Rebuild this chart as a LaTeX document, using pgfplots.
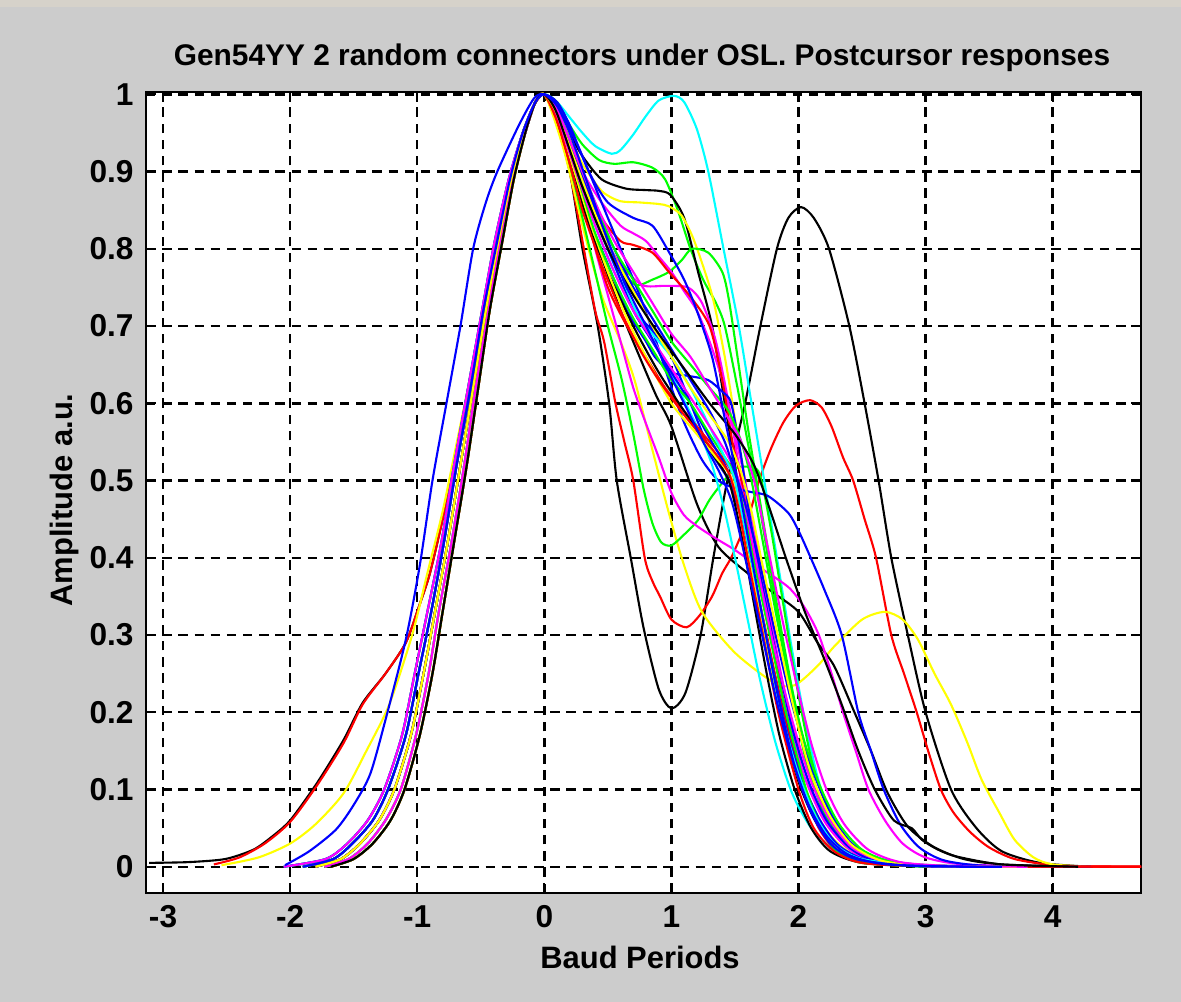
\documentclass[border=0pt]{standalone}
\usepackage{fontspec}
\setmainfont{Liberation Sans}
\usepackage{pgfplots}
\pgfplotsset{compat=1.18}
\definecolor{figgray}{RGB}{204,204,204}
\definecolor{barstrip}{RGB}{214,210,202}
\definecolor{mb}{RGB}{0,0,255}
\definecolor{mg}{RGB}{0,255,0}
\definecolor{mr}{RGB}{255,0,0}
\definecolor{mc}{RGB}{0,255,255}
\definecolor{mm}{RGB}{255,0,255}
\definecolor{my}{RGB}{255,255,0}
\definecolor{mk}{RGB}{0,0,0}

\begin{document}
\begin{tikzpicture}
\fill[figgray] (0,0) rectangle (11.81,10.02);
\fill[barstrip] (0,9.95) rectangle (11.81,10.02);
\begin{axis}[
  at={(1.46cm,1.09cm)}, anchor=south west,
  width=9.95cm, height=8.01cm, scale only axis,
  xmin=-3.134, xmax=4.695, ymin=-0.034, ymax=1.003,
  xtick={-3,-2,-1,0,1,2,3,4},
  xticklabels={-3,-2,-1,0,1,2,3,4},
  ytick={0,0.1,0.2,0.3,0.4,0.5,0.6,0.7,0.8,0.9,1},
  yticklabels={0,0.1,0.2,0.3,0.4,0.5,0.6,0.7,0.8,0.9,1},
  ticklabel style={font=\fontsize{9}{10}\selectfont\bfseries},
  grid=major,
  major grid style={black, line width=0.7pt, dash pattern=on 2.7pt off 1.9pt},
  axis line style={black, line width=0.65pt},
  tick style={black, line width=0.65pt},
  major tick length=2.8pt, tick align=inside,
  axis background/.style={fill=white},
  every axis plot/.append style={line width=0.6pt, no markers, smooth, tension=0.45},
]
% black: dip at 1, second peak near 2
\addplot[mk] coordinates {(-3.11,0.005) (-2.8,0.006) (-2.51,0.01) (-2.29,0.022) (-2.15,0.038) (-2.0,0.06) (-1.79,0.108) (-1.58,0.164) (-1.43,0.212) (-1.25,0.25) (-1.09,0.29) (-0.98,0.34) (-0.9,0.38) (-0.8,0.45) (-0.7,0.53) (-0.6,0.61) (-0.5,0.7) (-0.4,0.79) (-0.3,0.87) (-0.2,0.93) (-0.1,0.98) (0,1)
 (0.1,0.96) (0.2,0.9) (0.3,0.8) (0.42,0.7) (0.51,0.6) (0.57,0.5) (0.68,0.4) (0.78,0.31) (0.9,0.23) (1.0,0.205) (1.11,0.225) (1.23,0.3) (1.33,0.4) (1.44,0.5) (1.58,0.6) (1.7,0.7) (1.83,0.8) (1.92,0.84) (2.02,0.854) (2.12,0.84) (2.24,0.8) (2.4,0.7) (2.52,0.6) (2.63,0.5) (2.73,0.4) (2.86,0.3) (3.0,0.2) (3.2,0.1) (3.4,0.05) (3.6,0.02) (3.9,0.005) (4.3,0)};
% red: dip at 1.1, second peak near 2.1
\addplot[mr] coordinates {(-2.6,0.003) (-2.4,0.012) (-2.2,0.03) (-2.0,0.058) (-1.79,0.105) (-1.58,0.16) (-1.43,0.21) (-1.25,0.25) (-1.09,0.29) (-0.98,0.34) (-0.9,0.38) (-0.8,0.45) (-0.7,0.53) (-0.6,0.61) (-0.5,0.7) (-0.4,0.79) (-0.3,0.87) (-0.2,0.93) (-0.1,0.98) (0,1)
 (0.1,0.97) (0.2,0.9) (0.3,0.81) (0.4,0.72) (0.47,0.68) (0.56,0.6) (0.63,0.55) (0.7,0.5) (0.79,0.4) (0.85,0.37) (0.91,0.35) (1.0,0.32) (1.12,0.31) (1.22,0.325) (1.32,0.35) (1.4,0.38) (1.47,0.4) (1.55,0.43) (1.62,0.46) (1.69,0.5) (1.78,0.54) (1.88,0.575) (1.98,0.597) (2.09,0.604) (2.18,0.595) (2.26,0.57) (2.35,0.53) (2.43,0.5) (2.52,0.45) (2.61,0.4) (2.73,0.3) (2.83,0.25) (2.93,0.2) (3.02,0.15) (3.12,0.1) (3.22,0.07) (3.35,0.045) (3.5,0.025) (3.7,0.01) (4.0,0.002) (4.3,0.0005) (4.7,0)};
% yellow: bump near 2.7
\addplot[my] coordinates {(-2.54,0.002) (-2.25,0.012) (-2.0,0.03) (-1.8,0.055) (-1.58,0.095) (-1.4,0.15) (-1.22,0.21) (-1.04,0.3) (-0.92,0.38) (-0.8,0.46) (-0.7,0.54) (-0.6,0.62) (-0.5,0.7) (-0.4,0.79) (-0.3,0.87) (-0.2,0.93) (-0.1,0.98) (0,1)
 (0.15,0.93) (0.3,0.83) (0.45,0.74) (0.6,0.68) (0.71,0.63) (0.85,0.54) (0.98,0.458) (1.1,0.39) (1.24,0.33) (1.5,0.277) (1.81,0.238) (1.97,0.235) (2.15,0.26) (2.28,0.285) (2.5,0.32) (2.68,0.33) (2.82,0.32) (2.94,0.294) (3.07,0.25) (3.2,0.21) (3.33,0.16) (3.44,0.113) (3.58,0.07) (3.7,0.035) (3.85,0.012) (4.0,0.003) (4.3,0)};
% cyan: second peak at 1
\addplot[mc] coordinates {(-1.73,0) (-1.54,0.01) (-1.39,0.03) (-1.25,0.06) (-1.13,0.1) (-1.01,0.17) (-0.91,0.25) (-0.83,0.33) (-0.73,0.42) (-0.63,0.52) (-0.54,0.62) (-0.44,0.72) (-0.35,0.81) (-0.25,0.89) (-0.15,0.95) (-0.07,0.99) (0,1)
 (0.1,0.99) (0.2,0.97) (0.3,0.95) (0.4,0.933) (0.53,0.923) (0.6,0.928) (0.7,0.948) (0.8,0.972) (0.9,0.992) (1.02,0.998) (1.1,0.99) (1.2,0.955) (1.29,0.9) (1.41,0.8) (1.53,0.7) (1.62,0.61) (1.7,0.53) (1.78,0.45) (1.86,0.37) (1.95,0.28) (2.05,0.19) (2.16,0.11) (2.28,0.06) (2.42,0.025) (2.6,0.008) (3.0,0.001) (3.8,0)};
% green: shoulder at 0.91
\addplot[mg] coordinates {(-1.9,0) (-1.66,0.01) (-1.51,0.03) (-1.35,0.06) (-1.23,0.1) (-1.09,0.17) (-0.99,0.25) (-0.89,0.33) (-0.79,0.42) (-0.69,0.52) (-0.58,0.62) (-0.48,0.72) (-0.37,0.81) (-0.27,0.89) (-0.17,0.95) (-0.07,0.99) (0,1)
 (0.1,0.99) (0.2,0.96) (0.3,0.935) (0.43,0.915) (0.55,0.91) (0.7,0.912) (0.85,0.905) (0.95,0.89) (1.05,0.85) (1.15,0.8) (1.25,0.76) (1.35,0.73) (1.42,0.7) (1.52,0.62) (1.6,0.55) (1.68,0.48) (1.76,0.4) (1.85,0.31) (1.95,0.22) (2.07,0.13) (2.2,0.07) (2.35,0.03) (2.55,0.01) (3.0,0.001) (3.6,0)};
% black: shoulder at 0.875
\addplot[mk] coordinates {(-1.8,0) (-1.6,0.01) (-1.45,0.03) (-1.3,0.06) (-1.18,0.1) (-1.05,0.17) (-0.95,0.25) (-0.86,0.33) (-0.76,0.42) (-0.66,0.52) (-0.56,0.62) (-0.46,0.72) (-0.36,0.81) (-0.26,0.89) (-0.16,0.95) (-0.07,0.99) (0,1)
 (0.1,0.985) (0.2,0.95) (0.3,0.92) (0.45,0.89) (0.64,0.878) (0.8,0.876) (0.9,0.875) (0.99,0.87) (1.1,0.84) (1.21,0.77) (1.32,0.7) (1.42,0.6) (1.5,0.52) (1.58,0.44) (1.67,0.36) (1.77,0.27) (1.88,0.18) (2.0,0.11) (2.13,0.06) (2.3,0.025) (2.5,0.008) (2.9,0.001) (3.5,0)};
% yellow: shoulder at 0.86
\addplot[my] coordinates {(-1.68,0) (-1.5,0.01) (-1.35,0.03) (-1.21,0.06) (-1.1,0.1) (-0.98,0.17) (-0.88,0.25) (-0.8,0.33) (-0.71,0.42) (-0.61,0.52) (-0.52,0.62) (-0.43,0.72) (-0.33,0.81) (-0.24,0.89) (-0.15,0.95) (-0.07,0.99) (0,1)
 (0.1,0.98) (0.2,0.945) (0.3,0.91) (0.45,0.875) (0.59,0.862) (0.75,0.86) (0.9,0.858) (0.98,0.855) (1.08,0.843) (1.18,0.81) (1.32,0.74) (1.42,0.66) (1.5,0.58) (1.58,0.5) (1.66,0.42) (1.75,0.33) (1.86,0.23) (1.98,0.14) (2.12,0.075) (2.28,0.035) (2.5,0.01) (2.9,0.001) (3.5,0)};
% black: long straight decay
\addplot[mk] coordinates {(-1.9,0) (-1.66,0.01) (-1.51,0.03) (-1.35,0.06) (-1.23,0.1) (-1.09,0.17) (-0.99,0.25) (-0.89,0.33) (-0.79,0.42) (-0.69,0.52) (-0.58,0.62) (-0.48,0.72) (-0.37,0.81) (-0.27,0.89) (-0.17,0.95) (-0.07,0.99) (0,1)
 (0.1,0.975) (0.2,0.93) (0.3,0.87) (0.45,0.79) (0.6,0.72) (0.75,0.66) (0.88,0.61) (1.0,0.57) (1.2,0.47) (1.37,0.414) (1.6,0.38) (1.8,0.355) (2.0,0.33) (2.15,0.29) (2.28,0.26) (2.44,0.2) (2.57,0.15) (2.7,0.096) (2.86,0.052) (3.06,0.026) (3.3,0.01) (3.6,0.003) (4.2,0)};
% green: dip at 1
\addplot[mg] coordinates {(-2.05,0) (-1.72,0.01) (-1.55,0.03) (-1.39,0.06) (-1.26,0.1) (-1.12,0.17) (-1.02,0.25) (-0.92,0.33) (-0.81,0.42) (-0.71,0.52) (-0.6,0.62) (-0.49,0.72) (-0.39,0.81) (-0.28,0.89) (-0.17,0.95) (-0.07,0.99) (0,1)
 (0.1,0.97) (0.2,0.91) (0.3,0.84) (0.4,0.77) (0.5,0.7) (0.61,0.63) (0.7,0.56) (0.78,0.49) (0.85,0.445) (0.92,0.42) (1.0,0.416) (1.1,0.43) (1.21,0.449) (1.3,0.475) (1.4,0.497) (1.5,0.515) (1.58,0.518) (1.69,0.51) (1.78,0.44) (1.88,0.34) (1.98,0.24) (2.1,0.14) (2.22,0.08) (2.38,0.035) (2.6,0.01) (3.0,0.001) (3.6,0)};
% magenta: low shoulder
\addplot[mm] coordinates {(-1.8,0) (-1.6,0.01) (-1.45,0.03) (-1.3,0.06) (-1.18,0.1) (-1.05,0.17) (-0.95,0.25) (-0.86,0.33) (-0.76,0.42) (-0.66,0.52) (-0.56,0.62) (-0.46,0.72) (-0.36,0.81) (-0.26,0.89) (-0.16,0.95) (-0.07,0.99) (0,1)
 (0.1,0.975) (0.2,0.93) (0.3,0.87) (0.4,0.8) (0.5,0.74) (0.6,0.68) (0.7,0.62) (0.79,0.578) (0.9,0.53) (1.0,0.484) (1.1,0.455) (1.21,0.44) (1.35,0.425) (1.5,0.41) (1.69,0.388) (1.92,0.362) (2.05,0.335) (2.16,0.3) (2.26,0.25) (2.35,0.2) (2.45,0.15) (2.55,0.1) (2.68,0.06) (2.82,0.03) (3.0,0.012) (3.3,0.003) (4.0,0)};
% green: bump near 0.8
\addplot[mg] coordinates {(-1.73,0) (-1.54,0.01) (-1.39,0.03) (-1.25,0.06) (-1.13,0.1) (-1.01,0.17) (-0.91,0.25) (-0.83,0.33) (-0.73,0.42) (-0.63,0.52) (-0.54,0.62) (-0.44,0.72) (-0.35,0.81) (-0.25,0.89) (-0.15,0.95) (-0.07,0.99) (0,1)
 (0.1,0.98) (0.2,0.94) (0.3,0.89) (0.4,0.84) (0.5,0.8) (0.6,0.775) (0.72,0.753) (0.85,0.76) (0.98,0.77) (1.08,0.785) (1.16,0.8) (1.29,0.795) (1.4,0.77) (1.45,0.736) (1.52,0.66) (1.6,0.57) (1.67,0.5) (1.75,0.42) (1.85,0.32) (1.95,0.23) (2.07,0.14) (2.2,0.075) (2.35,0.035) (2.55,0.012) (3.0,0.001) (3.6,0)};
% magenta: upper shoulder
\addplot[mm] coordinates {(-1.68,0) (-1.5,0.01) (-1.35,0.03) (-1.21,0.06) (-1.1,0.1) (-0.98,0.17) (-0.88,0.25) (-0.8,0.33) (-0.71,0.42) (-0.61,0.52) (-0.52,0.62) (-0.43,0.72) (-0.33,0.81) (-0.24,0.89) (-0.15,0.95) (-0.07,0.99) (0,1)
 (0.1,0.98) (0.2,0.94) (0.3,0.9) (0.45,0.86) (0.6,0.83) (0.7,0.82) (0.8,0.81) (0.9,0.79) (1.0,0.77) (1.1,0.745) (1.2,0.72) (1.3,0.68) (1.4,0.63) (1.5,0.56) (1.58,0.5) (1.68,0.41) (1.78,0.32) (1.9,0.22) (2.02,0.14) (2.15,0.08) (2.3,0.04) (2.5,0.014) (2.9,0.002) (3.6,0)};
% magenta: mid shoulder
\addplot[mm] coordinates {(-1.9,0) (-1.66,0.01) (-1.51,0.03) (-1.35,0.06) (-1.23,0.1) (-1.09,0.17) (-0.99,0.25) (-0.89,0.33) (-0.79,0.42) (-0.69,0.52) (-0.58,0.62) (-0.48,0.72) (-0.37,0.81) (-0.27,0.89) (-0.17,0.95) (-0.07,0.99) (0,1)
 (0.1,0.975) (0.2,0.93) (0.3,0.88) (0.45,0.82) (0.6,0.78) (0.77,0.753) (0.95,0.752) (1.13,0.75) (1.24,0.73) (1.35,0.68) (1.45,0.6) (1.52,0.53) (1.6,0.46) (1.7,0.37) (1.8,0.28) (1.92,0.19) (2.05,0.115) (2.2,0.06) (2.36,0.028) (2.55,0.01) (3.0,0.001) (3.6,0)};
% red: shoulder at 0.8
\addplot[mr] coordinates {(-1.68,0) (-1.5,0.01) (-1.35,0.03) (-1.21,0.06) (-1.1,0.1) (-0.98,0.17) (-0.88,0.25) (-0.8,0.33) (-0.71,0.42) (-0.61,0.52) (-0.52,0.62) (-0.43,0.72) (-0.33,0.81) (-0.24,0.89) (-0.15,0.95) (-0.07,0.99) (0,1)
 (0.1,0.975) (0.2,0.935) (0.3,0.89) (0.45,0.84) (0.6,0.81) (0.7,0.805) (0.85,0.795) (0.98,0.77) (1.14,0.74) (1.3,0.7) (1.4,0.63) (1.48,0.55) (1.55,0.5) (1.65,0.4) (1.78,0.3) (1.9,0.2) (2.05,0.1) (2.18,0.05) (2.32,0.02) (2.55,0.006) (3.0,0.001) (4.7,0)};
% blue: plateau at 0.64
\addplot[mb] coordinates {(-1.8,0) (-1.6,0.01) (-1.45,0.03) (-1.3,0.06) (-1.18,0.1) (-1.05,0.17) (-0.95,0.25) (-0.86,0.33) (-0.76,0.42) (-0.66,0.52) (-0.56,0.62) (-0.46,0.72) (-0.36,0.81) (-0.26,0.89) (-0.16,0.95) (-0.07,0.99) (0,1)
 (0.1,0.97) (0.2,0.92) (0.35,0.84) (0.5,0.78) (0.65,0.72) (0.8,0.68) (0.87,0.66) (1.0,0.64) (1.15,0.635) (1.29,0.63) (1.4,0.615) (1.47,0.6) (1.55,0.53) (1.62,0.45) (1.72,0.36) (1.83,0.27) (1.95,0.18) (2.08,0.11) (2.22,0.06) (2.4,0.025) (2.6,0.008) (3.0,0.001) (3.8,0)};
% blue
\addplot[mb] coordinates {(-1.73,0) (-1.54,0.01) (-1.39,0.03) (-1.25,0.06) (-1.13,0.1) (-1.01,0.17) (-0.91,0.25) (-0.83,0.33) (-0.73,0.42) (-0.63,0.52) (-0.54,0.62) (-0.44,0.72) (-0.35,0.81) (-0.25,0.89) (-0.15,0.95) (-0.07,0.99) (0,1)
 (0.1,0.98) (0.2,0.94) (0.3,0.9) (0.45,0.83) (0.6,0.77) (0.69,0.725) (0.87,0.69) (1.0,0.66) (1.15,0.6) (1.3,0.54) (1.45,0.5) (1.55,0.45) (1.66,0.37) (1.77,0.28) (1.9,0.19) (2.03,0.11) (2.16,0.06) (2.3,0.028) (2.5,0.009) (2.9,0.001) (3.6,0)};
% blue: plateau at 0.5, slow tail
\addplot[mb] coordinates {(-1.9,0) (-1.66,0.01) (-1.51,0.03) (-1.35,0.06) (-1.23,0.1) (-1.09,0.17) (-0.99,0.25) (-0.89,0.33) (-0.79,0.42) (-0.69,0.52) (-0.58,0.62) (-0.48,0.72) (-0.37,0.81) (-0.27,0.89) (-0.17,0.95) (-0.07,0.99) (0,1)
 (0.1,0.985) (0.2,0.955) (0.3,0.92) (0.45,0.86) (0.6,0.8) (0.75,0.74) (0.88,0.68) (0.98,0.63) (1.1,0.575) (1.24,0.527) (1.37,0.5) (1.5,0.49) (1.63,0.485) (1.76,0.48) (1.92,0.458) (2.0,0.435) (2.08,0.406) (2.2,0.36) (2.34,0.3) (2.47,0.2) (2.57,0.15) (2.67,0.1) (2.8,0.055) (2.95,0.025) (3.15,0.008) (3.5,0.001) (4.3,0)};
% cyan
\addplot[mc] coordinates {(-2.05,0) (-1.72,0.01) (-1.55,0.03) (-1.39,0.06) (-1.26,0.1) (-1.12,0.17) (-1.02,0.25) (-0.92,0.33) (-0.81,0.42) (-0.71,0.52) (-0.6,0.62) (-0.49,0.72) (-0.39,0.81) (-0.28,0.89) (-0.17,0.95) (-0.07,0.99) (0,1)
 (0.1,0.98) (0.2,0.94) (0.3,0.89) (0.45,0.82) (0.6,0.76) (0.75,0.71) (0.9,0.67) (1.05,0.62) (1.2,0.57) (1.32,0.52) (1.42,0.46) (1.5,0.4) (1.6,0.32) (1.7,0.24) (1.82,0.16) (1.95,0.095) (2.1,0.05) (2.28,0.022) (2.5,0.008) (3.0,0.001) (3.8,0)};
% red
\addplot[mr] coordinates {(-1.68,0) (-1.5,0.01) (-1.35,0.03) (-1.21,0.06) (-1.1,0.1) (-0.98,0.17) (-0.88,0.25) (-0.8,0.33) (-0.71,0.42) (-0.61,0.52) (-0.52,0.62) (-0.43,0.72) (-0.33,0.81) (-0.24,0.89) (-0.15,0.95) (-0.07,0.99) (0,1)
 (0.1,0.97) (0.2,0.92) (0.35,0.83) (0.5,0.75) (0.65,0.7) (0.8,0.66) (0.95,0.62) (1.1,0.59) (1.25,0.56) (1.4,0.53) (1.5,0.5) (1.62,0.4) (1.75,0.3) (1.88,0.2) (2.04,0.1) (2.16,0.05) (2.3,0.02) (2.5,0.006) (3.0,0.001) (4.7,0)};
% blue
\addplot[mb] coordinates {(-1.8,0) (-1.6,0.01) (-1.45,0.03) (-1.3,0.06) (-1.18,0.1) (-1.05,0.17) (-0.95,0.25) (-0.86,0.33) (-0.76,0.42) (-0.66,0.52) (-0.56,0.62) (-0.46,0.72) (-0.36,0.81) (-0.26,0.89) (-0.16,0.95) (-0.07,0.99) (0,1)
 (0.1,0.975) (0.25,0.91) (0.4,0.84) (0.55,0.78) (0.7,0.72) (0.85,0.68) (1.0,0.64) (1.15,0.6) (1.3,0.555) (1.45,0.51) (1.55,0.45) (1.66,0.36) (1.78,0.27) (1.9,0.18) (2.03,0.11) (2.17,0.06) (2.32,0.027) (2.55,0.008) (3.0,0.001) (3.6,0)};
% black
\addplot[mk] coordinates {(-1.8,0) (-1.6,0.01) (-1.45,0.03) (-1.3,0.06) (-1.18,0.1) (-1.05,0.17) (-0.95,0.25) (-0.86,0.33) (-0.76,0.42) (-0.66,0.52) (-0.56,0.62) (-0.46,0.72) (-0.36,0.81) (-0.26,0.89) (-0.16,0.95) (-0.07,0.99) (0,1)
 (0.1,0.97) (0.2,0.92) (0.35,0.83) (0.5,0.77) (0.7,0.7) (0.9,0.64) (1.1,0.59) (1.3,0.54) (1.45,0.5) (1.55,0.43) (1.65,0.34) (1.75,0.25) (1.85,0.17) (1.97,0.1) (2.1,0.05) (2.25,0.02) (2.5,0.005) (3.0,0.001) (3.6,0)};
% yellow
\addplot[my] coordinates {(-1.73,0) (-1.54,0.01) (-1.39,0.03) (-1.25,0.06) (-1.13,0.1) (-1.01,0.17) (-0.91,0.25) (-0.83,0.33) (-0.73,0.42) (-0.63,0.52) (-0.54,0.62) (-0.44,0.72) (-0.35,0.81) (-0.25,0.89) (-0.15,0.95) (-0.07,0.99) (0,1)
 (0.1,0.97) (0.2,0.92) (0.35,0.84) (0.5,0.77) (0.65,0.71) (0.8,0.66) (1.0,0.6) (1.2,0.56) (1.35,0.53) (1.48,0.5) (1.58,0.42) (1.7,0.33) (1.82,0.23) (1.95,0.14) (2.08,0.08) (2.22,0.04) (2.4,0.014) (2.7,0.003) (3.2,0)};
% green
\addplot[mg] coordinates {(-1.68,0) (-1.5,0.01) (-1.35,0.03) (-1.21,0.06) (-1.1,0.1) (-0.98,0.17) (-0.88,0.25) (-0.8,0.33) (-0.71,0.42) (-0.61,0.52) (-0.52,0.62) (-0.43,0.72) (-0.33,0.81) (-0.24,0.89) (-0.15,0.95) (-0.07,0.99) (0,1)
 (0.1,0.975) (0.25,0.9) (0.4,0.82) (0.55,0.76) (0.7,0.71) (0.85,0.67) (1.0,0.63) (1.15,0.6) (1.3,0.56) (1.42,0.53) (1.52,0.5) (1.63,0.41) (1.76,0.31) (1.9,0.2) (2.06,0.1) (2.18,0.05) (2.3,0.02) (2.5,0.005) (3.0,0)};
% cyan
\addplot[mc] coordinates {(-1.8,0) (-1.6,0.01) (-1.45,0.03) (-1.3,0.06) (-1.18,0.1) (-1.05,0.17) (-0.95,0.25) (-0.86,0.33) (-0.76,0.42) (-0.66,0.52) (-0.56,0.62) (-0.46,0.72) (-0.36,0.81) (-0.26,0.89) (-0.16,0.95) (-0.07,0.99) (0,1)
 (0.1,0.975) (0.25,0.905) (0.4,0.83) (0.55,0.77) (0.7,0.72) (0.85,0.69) (1.0,0.66) (1.15,0.62) (1.3,0.57) (1.42,0.53) (1.5,0.5) (1.6,0.42) (1.72,0.32) (1.85,0.21) (1.98,0.13) (2.12,0.07) (2.28,0.03) (2.5,0.01) (3.0,0.001) (3.7,0)};
% magenta
\addplot[mm] coordinates {(-1.73,0) (-1.54,0.01) (-1.39,0.03) (-1.25,0.06) (-1.13,0.1) (-1.01,0.17) (-0.91,0.25) (-0.83,0.33) (-0.73,0.42) (-0.63,0.52) (-0.54,0.62) (-0.44,0.72) (-0.35,0.81) (-0.25,0.89) (-0.15,0.95) (-0.07,0.99) (0,1)
 (0.1,0.97) (0.25,0.9) (0.4,0.83) (0.55,0.77) (0.7,0.72) (0.9,0.67) (1.1,0.62) (1.3,0.57) (1.45,0.53) (1.55,0.49) (1.66,0.4) (1.8,0.29) (1.95,0.19) (2.1,0.11) (2.25,0.06) (2.42,0.025) (2.65,0.008) (3.0,0.001) (3.8,0)};
% red
\addplot[mr] coordinates {(-1.8,0) (-1.6,0.01) (-1.45,0.03) (-1.3,0.06) (-1.18,0.1) (-1.05,0.17) (-0.95,0.25) (-0.86,0.33) (-0.76,0.42) (-0.66,0.52) (-0.56,0.62) (-0.46,0.72) (-0.36,0.81) (-0.26,0.89) (-0.16,0.95) (-0.07,0.99) (0,1)
 (0.1,0.965) (0.2,0.91) (0.3,0.85) (0.45,0.78) (0.6,0.72) (0.75,0.67) (0.9,0.63) (1.1,0.585) (1.3,0.545) (1.45,0.51) (1.52,0.47) (1.6,0.4) (1.72,0.3) (1.84,0.2) (2.0,0.1) (2.12,0.05) (2.28,0.02) (2.5,0.005) (3.0,0.001) (4.7,0)};
% blue
\addplot[mb] coordinates {(-2.05,0) (-1.72,0.01) (-1.55,0.03) (-1.39,0.06) (-1.26,0.1) (-1.12,0.17) (-1.02,0.25) (-0.92,0.33) (-0.81,0.42) (-0.71,0.52) (-0.6,0.62) (-0.49,0.72) (-0.39,0.81) (-0.28,0.89) (-0.17,0.95) (-0.07,0.99) (0,1)
 (0.1,0.98) (0.25,0.915) (0.4,0.85) (0.55,0.8) (0.7,0.75) (0.85,0.71) (1.0,0.67) (1.15,0.63) (1.3,0.59) (1.42,0.55) (1.5,0.51) (1.58,0.47) (1.7,0.39) (1.82,0.3) (1.95,0.21) (2.1,0.13) (2.25,0.07) (2.42,0.03) (2.65,0.01) (3.0,0.002) (3.7,0)};
% green
\addplot[mg] coordinates {(-1.9,0) (-1.66,0.01) (-1.51,0.03) (-1.35,0.06) (-1.23,0.1) (-1.09,0.17) (-0.99,0.25) (-0.89,0.33) (-0.79,0.42) (-0.69,0.52) (-0.58,0.62) (-0.48,0.72) (-0.37,0.81) (-0.27,0.89) (-0.17,0.95) (-0.07,0.99) (0,1)
 (0.1,0.98) (0.25,0.92) (0.4,0.86) (0.55,0.8) (0.7,0.76) (0.85,0.72) (1.0,0.68) (1.15,0.65) (1.3,0.62) (1.45,0.59) (1.55,0.55) (1.63,0.5) (1.72,0.42) (1.82,0.33) (1.93,0.24) (2.05,0.16) (2.18,0.1) (2.32,0.055) (2.5,0.022) (2.75,0.006) (3.2,0.001) (3.8,0)};
% yellow
\addplot[my] coordinates {(-1.8,0) (-1.6,0.01) (-1.45,0.03) (-1.3,0.06) (-1.18,0.1) (-1.05,0.17) (-0.95,0.25) (-0.86,0.33) (-0.76,0.42) (-0.66,0.52) (-0.56,0.62) (-0.46,0.72) (-0.36,0.81) (-0.26,0.89) (-0.16,0.95) (-0.07,0.99) (0,1)
 (0.1,0.975) (0.25,0.91) (0.4,0.845) (0.55,0.79) (0.7,0.745) (0.85,0.7) (1.0,0.66) (1.15,0.62) (1.3,0.585) (1.45,0.55) (1.55,0.51) (1.63,0.46) (1.73,0.38) (1.85,0.29) (1.97,0.2) (2.1,0.12) (2.25,0.065) (2.42,0.028) (2.65,0.008) (3.0,0.001) (3.8,0)};
% magenta
\addplot[mm] coordinates {(-2.05,0) (-1.72,0.01) (-1.55,0.03) (-1.39,0.06) (-1.26,0.1) (-1.12,0.17) (-1.02,0.25) (-0.92,0.33) (-0.81,0.42) (-0.71,0.52) (-0.6,0.62) (-0.49,0.72) (-0.39,0.81) (-0.28,0.89) (-0.17,0.95) (-0.07,0.99) (0,1)
 (0.1,0.98) (0.25,0.92) (0.4,0.86) (0.55,0.81) (0.7,0.77) (0.85,0.73) (1.0,0.69) (1.15,0.66) (1.3,0.62) (1.45,0.58) (1.55,0.55) (1.65,0.5) (1.75,0.42) (1.86,0.33) (1.98,0.24) (2.1,0.16) (2.22,0.1) (2.36,0.055) (2.55,0.022) (2.8,0.006) (3.2,0.001) (3.8,0)};
% black: widest of the main group
\addplot[mk] coordinates {(-1.68,0) (-1.5,0.01) (-1.35,0.03) (-1.21,0.06) (-1.1,0.1) (-0.98,0.17) (-0.88,0.25) (-0.8,0.33) (-0.71,0.42) (-0.61,0.52) (-0.52,0.62) (-0.43,0.72) (-0.33,0.81) (-0.24,0.89) (-0.15,0.95) (-0.07,0.99) (0,1)
 (0.1,0.975) (0.3,0.88) (0.5,0.8) (0.7,0.74) (0.9,0.69) (1.1,0.645) (1.3,0.6) (1.5,0.56) (1.65,0.52) (1.78,0.46) (1.9,0.4) (2.05,0.33) (2.2,0.27) (2.34,0.21) (2.47,0.15) (2.6,0.1) (2.75,0.06) (2.89,0.05) (2.97,0.035) (3.1,0.022) (3.25,0.013) (3.6,0.003) (4.2,0)};
% blue: near the high green shoulder
\addplot[mb] coordinates {(-1.9,0) (-1.66,0.01) (-1.51,0.03) (-1.35,0.06) (-1.23,0.1) (-1.09,0.17) (-0.99,0.25) (-0.89,0.33) (-0.79,0.42) (-0.69,0.52) (-0.58,0.62) (-0.48,0.72) (-0.37,0.81) (-0.27,0.89) (-0.17,0.95) (-0.07,0.99) (0,1)
 (0.1,0.99) (0.2,0.96) (0.35,0.9) (0.5,0.86) (0.7,0.84) (0.85,0.83) (0.98,0.796) (1.1,0.76) (1.2,0.72) (1.32,0.66) (1.42,0.58) (1.52,0.5) (1.62,0.41) (1.72,0.32) (1.84,0.22) (1.97,0.13) (2.1,0.07) (2.25,0.03) (2.45,0.01) (2.9,0.001) (3.6,0)};
% blue: widest on the left
\addplot[mb] coordinates {(-2.04,0.002) (-1.85,0.02) (-1.64,0.048) (-1.5,0.08) (-1.37,0.12) (-1.25,0.19) (-1.09,0.294) (-0.98,0.39) (-0.88,0.5) (-0.77,0.6) (-0.66,0.7) (-0.56,0.8) (-0.46,0.86) (-0.37,0.9) (-0.2,0.96) (-0.08,0.995) (0,1)
 (0.1,0.985) (0.2,0.95) (0.35,0.88) (0.5,0.81) (0.65,0.75) (0.8,0.7) (0.95,0.65) (1.1,0.6) (1.25,0.55) (1.38,0.51) (1.48,0.47) (1.58,0.4) (1.7,0.31) (1.82,0.22) (1.95,0.14) (2.08,0.08) (2.22,0.04) (2.4,0.015) (2.7,0.003) (3.4,0)};
\end{axis}
\node[font=\fontsize{8.5}{10}\selectfont\bfseries] at (6.42,9.44) {Gen54YY 2 random connectors under OSL. Postcursor responses};
\node[font=\fontsize{8.8}{10}\selectfont\bfseries] at (6.40,0.45) {Baud Periods};
\node[font=\fontsize{8.8}{10}\selectfont\bfseries, rotate=90] at (0.65,5.02) {Amplitude a.u.};
\end{tikzpicture}
\end{document}
